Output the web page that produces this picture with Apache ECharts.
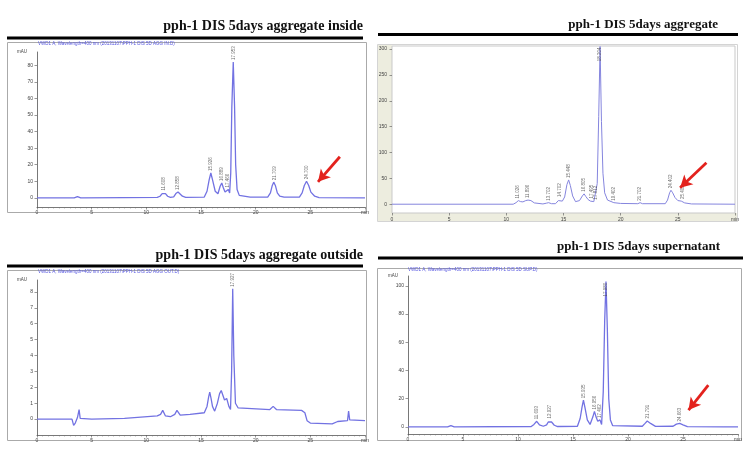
<!DOCTYPE html>
<html><head><meta charset="utf-8">
<script src="https://cdn.jsdelivr.net/npm/echarts@6/dist/echarts.min.js"></script>
<style>html,body{margin:0;padding:0;background:#fff}#c{width:749px;height:456px}</style>
</head><body><div id="c"></div>
<script>
// ---------- titles & headers ----------
const panelTitles = [
  'pph-1 DIS 5days aggregate inside',
  'pph-1 DIS 5days aggregate',
  'pph-1 DIS 5days aggregate outside',
  'pph-1 DIS 5days supernatant'
];
const headerTexts = [
  'VWD1 A, Wavelength=400 nm (20131107\\PPH-1 DIS 5D AGG IN.D)',
  '',
  'VWD1 A, Wavelength=400 nm (20131107\\PPH-1 DIS 5D AGG OUT.D)',
  'VWD1 A, Wavelength=400 nm (20131107\\PPH-1 DIS 5D SUP.D)'
];
// ---------- axis ticks ----------
const xTicks = [0, 5, 10, 15, 20, 25, 30];
const yTicksInside = [0, 10, 20, 30, 40, 50, 60, 70, 80];
const yTicksAggregate = [0, 50, 100, 150, 200, 250, 300];
const yTicksOutside = [0, 1, 2, 3, 4, 5, 6, 7, 8];
const yTicksSupernatant = [0, 20, 40, 60, 80, 100];

// ---------- traces [time (min), signal (mAU)] ----------
const insideTrace = [[0,0],[3.4,0],[3.7,0.8],[4.0,0],[8,0.2],[11.0,0.3],[11.25,1.0],[11.45,2.6],[11.6,3.2],[11.75,2.6],[11.95,1.0],[12.2,0.3],[12.5,0.6],[12.7,2.6],[12.9,3.6],[13.05,2.8],[13.3,1.0],[13.6,0.3],[15.3,0.5],[15.55,4],[15.75,11],[15.9,15],[16.05,11],[16.3,4],[16.55,2.5],[16.75,7],[16.9,9],[17.05,6],[17.2,3.5],[17.35,4.5],[17.5,5],[17.62,3],[17.72,15],[17.82,55],[17.95,82],[18.07,55],[18.17,20],[18.3,5],[18.5,1.5],[19.5,0.5],[21.1,0.5],[21.35,3],[21.52,7.5],[21.65,9.5],[21.8,7.5],[21.98,3],[22.2,1],[22.6,0.5],[24.0,0.5],[24.25,3],[24.45,7.5],[24.65,10],[24.85,7.5],[25.05,3.5],[25.4,1],[25.8,0.2],[30,0]];
const aggregateTrace = [[0,0],[10.6,0],[10.85,3],[11.05,7],[11.25,5],[11.45,4.5],[11.7,7],[11.9,8],[12.15,7],[12.45,2.5],[13.2,0.5],[13.5,2],[13.7,3],[13.95,1],[14.3,1],[14.55,7],[14.7,10],[14.9,6],[15.1,14],[15.3,38],[15.45,47],[15.6,36],[15.8,16],[16.05,5],[16.4,7],[16.65,16],[16.8,20],[16.95,15],[17.15,9],[17.35,6],[17.5,7],[17.65,5],[17.8,5],[17.95,40],[18.08,170],[18.2,305],[18.32,160],[18.45,60],[18.6,22],[18.85,8],[19.4,3],[20,1.5],[21.5,1],[21.7,3],[21.9,1],[23.9,1],[24.1,8],[24.28,22],[24.4,27],[24.55,22],[24.75,13],[25.0,7],[25.3,6],[25.6,2.5],[26.2,0.5],[30,0]];
const outsideTrace = [[0,0],[3.2,0],[3.35,-0.4],[3.5,-0.25],[3.7,0.1],[3.85,0.6],[3.95,0.05],[5,0],[8,0.05],[11,0.2],[11.3,0.3],[11.5,0.55],[11.75,0.2],[12.2,0.15],[12.6,0.3],[12.8,0.55],[13.1,0.25],[14,0.3],[15.3,0.4],[15.55,0.8],[15.7,1.4],[15.8,1.7],[15.92,1.3],[16.05,0.8],[16.25,0.5],[16.5,1.0],[16.7,1.6],[16.85,1.8],[17.0,1.5],[17.15,1.2],[17.35,1.3],[17.55,0.8],[17.7,0.6],[17.8,3],[17.9,8.2],[18.0,4],[18.15,1.0],[18.4,0.7],[21.3,0.6],[21.6,0.8],[21.9,0.6],[24.2,0.55],[24.5,0.4],[24.7,-0.1],[25.0,-0.25],[27,-0.3],[27.5,-0.15],[28.4,-0.1],[28.5,0.5],[28.6,-0.05],[30,-0.1]];
const supernatantTrace = [[0,0],[3.6,0],[3.9,1],[4.2,0],[11.2,0.3],[11.45,1.8],[11.7,4],[11.95,1.5],[12.3,0.5],[12.6,1.5],[12.75,3.5],[12.9,4.5],[13.05,3.5],[13.3,1.2],[13.6,0.3],[15.4,0.5],[15.65,6],[15.82,14],[15.95,19],[16.08,14],[16.3,5],[16.55,1.8],[16.8,7],[16.95,11],[17.1,7],[17.25,4],[17.45,5],[17.6,1.8],[17.75,25],[17.88,75],[18.0,103],[18.12,70],[18.25,20],[18.4,5],[18.6,1],[21.3,0.5],[21.55,2.5],[21.75,4.2],[21.85,4.5],[22.05,2.5],[22.5,0.4],[24.1,0.5],[24.4,2],[24.7,2.5],[25.0,1.5],[25.4,0.2],[28.7,0],[28.8,0.5],[28.9,0],[30,0]];

// ---------- peak labels (retention time, apex height) ----------
const insidePeakTimes = [11.608, 12.858, 15.926, 16.889, 17.466, 17.953, 21.709, 24.700];
const insidePeakHeights = [3.2, 3.6, 15, 9, 5, 82, 9.5, 10];
const aggregatePeakTimes = [11.026, 11.896, 13.702, 14.702, 15.448, 16.805, 17.495, 17.812, 18.204, 19.402, 21.702, 24.402, 25.402];
const aggregatePeakHeights = [7, 8, 3, 10, 47, 20, 7, 5, 305, 3, 3, 27, 6];
const outsidePeakTimes = [17.927];
const outsidePeakHeights = [8.2];
const supernatantPeakTimes = [11.693, 12.927, 15.935, 16.956, 17.462, 17.980, 21.791, 24.663];
const supernatantPeakHeights = [4, 4.5, 19, 11, 5, 103, 4.5, 2.5];

// ---------- red arrows [start, tip] in data coordinates ----------
const insideArrow = [[27.7, 24.8], [25.7, 9.7]];
const aggregateArrow = [[27.5, 80], [25.2, 32]];
const supernatantArrow = [[27.3, 29.7], [25.5, 12]];

const panels = [
  {trace: insideTrace, pt: insidePeakTimes, ph: insidePeakHeights, yTicks: yTicksInside, yMin: -5.5, yMax: 88,
   grid: {left: 37, top: 52, width: 328, height: 155}, arrow: insideArrow, classic: true},
  {trace: aggregateTrace, pt: aggregatePeakTimes, ph: aggregatePeakHeights, yTicks: yTicksAggregate, yMin: -17, yMax: 306,
   grid: {left: 392, top: 46, width: 343, height: 167}, arrow: aggregateArrow, classic: false},
  {trace: outsideTrace, pt: outsidePeakTimes, ph: outsidePeakHeights, yTicks: yTicksOutside, yMin: -1, yMax: 8.75,
   grid: {left: 37, top: 280, width: 328, height: 155}, arrow: null, classic: true},
  {trace: supernatantTrace, pt: supernatantPeakTimes, ph: supernatantPeakHeights, yTicks: yTicksSupernatant, yMin: -5, yMax: 107,
   grid: {left: 408, top: 276, width: 330, height: 158}, arrow: supernatantArrow, classic: true}
];

const axisColor = '#555';
const grids = [], xAxes = [], yAxes = [], series = [];
panels.forEach((p, i) => {
  grids.push(Object.assign({containLabel: false,
    show: !p.classic, borderColor: '#c9c9c9', borderWidth: 1, backgroundColor: p.classic ? 'transparent' : '#fff'}, p.grid));
  xAxes.push({
    type: 'value', gridIndex: i, min: 0, max: 30, interval: 5,
    axisLine: {show: p.classic, onZero: false, lineStyle: {color: axisColor, width: 0.8}},
    axisTick: {show: true, length: 2.5, lineStyle: {color: axisColor, width: 0.6}},
    minorTick: {show: p.classic, splitNumber: 10, length: 1.5, lineStyle: {color: '#777', width: 0.5}},
    axisLabel: {fontSize: 5, color: '#444', margin: p.classic ? 3 : 4, fontFamily: 'Liberation Sans',
      customValues: xTicks, formatter: v => (v === 30 ? 'min' : String(v))},
    splitLine: {show: false}
  });
  yAxes.push({
    type: 'value', gridIndex: i, min: p.yMin, max: p.yMax,
    name: p.classic ? 'mAU' : '', nameLocation: 'end', nameGap: 0,
    nameTextStyle: {fontSize: 4.5, color: '#444', align: 'right', verticalAlign: 'middle', padding: [0, 10, 0, 0]},
    axisLine: {show: p.classic, lineStyle: {color: axisColor, width: 0.8}},
    axisTick: {show: true, length: 2.5, customValues: p.yTicks, lineStyle: {color: axisColor, width: 0.6}},
    axisLabel: {fontSize: 5, color: '#444', margin: p.classic ? 4 : 5, fontFamily: 'Liberation Sans', customValues: p.yTicks},
    splitLine: {show: false}
  });
  const lineSeries = {
    type: 'line', xAxisIndex: i, yAxisIndex: i, data: p.trace, showSymbol: false, symbol: 'none',
    lineStyle: {color: p.classic ? '#7272e2' : '#8585de', width: p.classic ? 1.3 : 1.0},
    clip: true, z: 3
  };
  if (p.arrow) {
    lineSeries.markLine = {
      silent: true, symbol: ['none', 'arrow'], symbolSize: [10, 12], precision: 3,
      label: {show: false},
      lineStyle: {color: '#e3221d', width: 2.8, type: 'solid'},
      data: [[{coord: p.arrow[0]}, {coord: p.arrow[1]}]]
    };
  }
  series.push(lineSeries);
  series.push({
    type: 'scatter', xAxisIndex: i, yAxisIndex: i, symbolSize: 0, z: 4,
    data: p.pt.map((t, k) => {
      const h = p.ph[k];
      const flip = h > 0.95 * p.yMax;
      return {value: [t, h], label: flip ? {position: 'bottom', align: 'right', distance: 1} : {}};
    }),
    label: {show: true, position: 'top', rotate: 90, align: 'left', verticalAlign: 'middle', distance: 2,
      fontSize: 4.5, color: '#4a4a4a', fontFamily: 'Liberation Sans', formatter: d => d.value[0].toFixed(3)}
  });
});

const titleDefs = [
  {right: 386, top: 19, fs: 14}, {right: 31, top: 18.5, fs: 13}, {right: 386, top: 248.5, fs: 14}, {right: 29, top: 240.5, fs: 13}
];
const titles = panelTitles.map((t, i) => ({
  text: t, padding: 0, right: titleDefs[i].right, top: titleDefs[i].top,
  textStyle: {fontFamily: 'Liberation Serif', fontWeight: 'bold', fontSize: titleDefs[i].fs, color: '#111'}
}));

const graphic = [
  // black rules under titles
  {type: 'line', shape: {x1: 7, y1: 38, x2: 363, y2: 38}, style: {stroke: '#000', lineWidth: 3}},
  {type: 'line', shape: {x1: 378, y1: 34.5, x2: 738, y2: 34.5}, style: {stroke: '#000', lineWidth: 3}},
  {type: 'line', shape: {x1: 7, y1: 266, x2: 363, y2: 266}, style: {stroke: '#000', lineWidth: 3}},
  {type: 'line', shape: {x1: 378, y1: 258, x2: 743, y2: 258}, style: {stroke: '#000', lineWidth: 3}},
  // frames
  {type: 'rect', shape: {x: 7.5, y: 42.5, width: 359, height: 170}, style: {fill: 'none', stroke: '#aaa', lineWidth: 1}},
  {type: 'rect', shape: {x: 7.5, y: 270.5, width: 359, height: 170}, style: {fill: 'none', stroke: '#aaa', lineWidth: 1}},
  {type: 'rect', shape: {x: 377.5, y: 268.5, width: 364, height: 172}, style: {fill: 'none', stroke: '#aaa', lineWidth: 1}},
  // panel 2 beige strips
  {type: 'rect', z: -1, shape: {x: 378, y: 45, width: 14, height: 177}, style: {fill: '#ededdf'}},
  {type: 'rect', z: -1, shape: {x: 378, y: 213, width: 360, height: 9}, style: {fill: '#ededdf'}},
  {type: 'rect', shape: {x: 377.5, y: 44.5, width: 360, height: 177}, style: {fill: 'none', stroke: '#d4d4d4', lineWidth: 1}},
  // header texts
  {type: 'text', x: 38, y: 44, style: {text: headerTexts[0], fontSize: 4.5, fill: '#5555e0', fontFamily: 'Liberation Sans', verticalAlign: 'middle'}},
  {type: 'text', x: 38, y: 272, style: {text: headerTexts[2], fontSize: 4.5, fill: '#5555e0', fontFamily: 'Liberation Sans', verticalAlign: 'middle'}},
  {type: 'text', x: 408, y: 270, style: {text: headerTexts[3], fontSize: 4.5, fill: '#5555e0', fontFamily: 'Liberation Sans', verticalAlign: 'middle'}}
];

const chart = echarts.init(document.getElementById('c'), null, {renderer: 'canvas'});
chart.setOption({
  animation: false,
  backgroundColor: '#fff',
  title: titles,
  grid: grids, xAxis: xAxes, yAxis: yAxes, series: series,
  graphic: graphic
});
</script></body></html>
